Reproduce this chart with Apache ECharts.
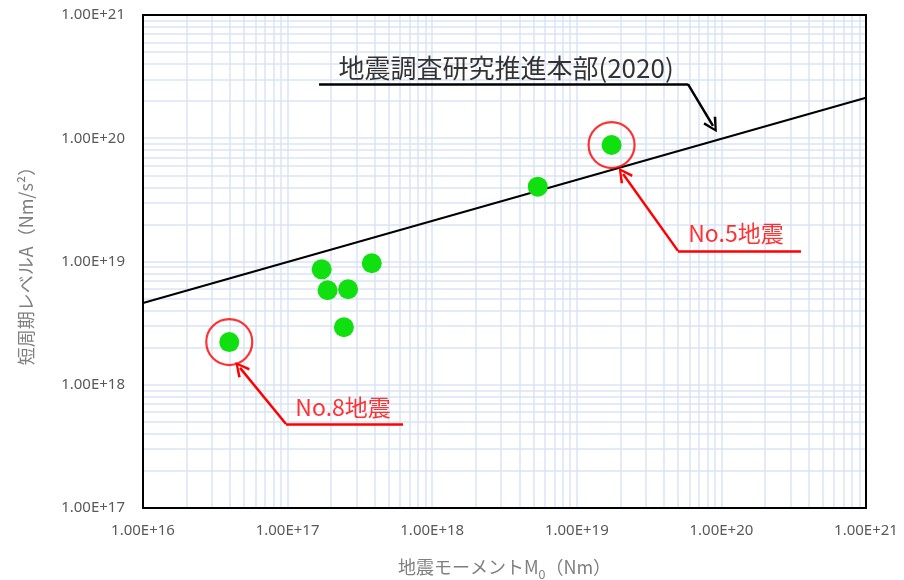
<!DOCTYPE html>
<html><head><meta charset="utf-8">
<script src="https://cdn.jsdelivr.net/npm/echarts@6/dist/echarts.min.js"></script>
<style>html,body{margin:0;padding:0;background:#fff}#c{width:904px;height:580px}</style>
</head><body><div id="c"></div>
<script>
// ---- data ----
const xTickLabels = ['1.00E+16','1.00E+17','1.00E+18','1.00E+19','1.00E+20','1.00E+21'];
const yTickLabels = ['1.00E+17','1.00E+18','1.00E+19','1.00E+20','1.00E+21'];
const quakeM0 = [3.95e16, 1.72e17, 1.89e17, 2.62e17, 2.45e17, 3.82e17, 5.37e18, 1.74e19];
const quakeA  = [2.22e18, 8.64e18, 5.84e18, 5.95e18, 2.93e18, 9.67e18, 4.05e19, 8.81e19];
const highlightIdx = [0, 7];                  // No.8, No.5
const relM0 = [1e16, 1e21];                   // 地震調査研究推進本部(2020)
const relA  = [4.6e18, 2.13e20];
const minorMult = [2,3,4,5,6,7,8,9];
const xDecades = [16,17,18,19,20];
const yDecades = [17,18,19,20];
// annotation anchors (data coords)
const relLabel = {name:'地震調査研究推進本部(2020)', pos:[3.24e18, 3.72e20]};
const relLeader = [[1.65e17,2.75e20],[5.87e19,2.75e20],[8.75e19,1.26e20]];
const no8Label = {name:'No.8地震', pos:[2.42e17, 6.6e17]};
const no8Leader = [[6.28e17,4.8e17],[9.75e16,4.8e17],[4.69e16,1.37e18]];
const no5Label = {name:'No.5地震', pos:[1.26e20, 1.7e19]};
const no5Leader = [[3.55e20,1.22e19],[5.01e19,1.22e19],[2.09e19,5.13e19]];

const gridColor = '#d9e4f4';
const minorX = [], minorY = [];
xDecades.forEach(d => minorMult.forEach(m => minorX.push({xAxis: m*Math.pow(10,d)})));
yDecades.forEach(d => minorMult.forEach(m => minorY.push({yAxis: m*Math.pow(10,d)})));

const chevron = 'path://M5,0 L10,9 L8.5,9.9 L5,3 L1.5,9.9 L0,9 Z';
const frameAxis = {axisLine:{show:true, onZero:false, lineStyle:{color:'#000', width:2}},
  axisTick:{show:false}, axisLabel:{show:false}, splitLine:{show:false}};
const blk = {color:'#000', width:2.5, opacity:1};
const red = {color:'#ff0000', width:2.5, opacity:1};

const chart = echarts.init(document.getElementById('c'));
chart.setOption({
  animation:false,
  grid:{left:143, right:38, top:15, bottom:72, containLabel:false, outerBoundsMode:'none'},
  xAxis:[{type:'log', logBase:10, min:1e16, max:1e21,
    name:'地震モーメントM{sub|0}（Nm）', nameLocation:'middle', nameGap:50,
    nameTextStyle:{color:'#7f7f7f', fontSize:18, fontFamily:'Noto Sans CJK JP',
      rich:{sub:{fontSize:12, verticalAlign:'bottom', padding:[0,0,-6,0], color:'#7f7f7f', fontFamily:'Noto Sans'}}},
    axisLine:{show:true, onZero:false, lineStyle:{color:'#000', width:2}}, axisTick:{show:false},
    splitLine:{show:true, lineStyle:{color:gridColor, width:1.5}},
    axisLabel:{color:'#595959', fontSize:15, fontFamily:'Noto Sans', margin:15,
      formatter:v => xTickLabels[Math.round(Math.log10(v))-16]}
  },
  Object.assign({type:'log', logBase:10, min:1e16, max:1e21, position:'top'}, frameAxis)],
  yAxis:[{type:'log', logBase:10, min:1e17, max:1e21,
    name:'短周期レベルA（Nm/s²）', nameLocation:'middle', nameGap:108, nameRotate:90,
    nameTextStyle:{color:'#7f7f7f', fontSize:18, fontFamily:'Noto Sans CJK JP'},
    axisLine:{show:true, onZero:false, lineStyle:{color:'#000', width:2}}, axisTick:{show:false},
    splitLine:{show:true, lineStyle:{color:gridColor, width:1.5}},
    axisLabel:{color:'#595959', fontSize:15, fontFamily:'Noto Sans', margin:18,
      formatter:v => yTickLabels[Math.round(Math.log10(v))-17]}
  },
  Object.assign({type:'log', logBase:10, min:1e17, max:1e21, position:'right'}, frameAxis)],
  series:[
    {type:'scatter', data:[], silent:true, z:0,
      markLine:{silent:true, z:0, symbol:'none', label:{show:false},
        lineStyle:{color:gridColor, width:1.5, type:'solid'},
        emphasis:{disabled:true}, data:minorX.concat(minorY)}},
    {type:'line', data:relM0.map((x,i)=>[x,relA[i]]), symbol:'none', z:3,
      lineStyle:{color:'#000', width:2}},
    {type:'scatter', data:quakeM0.map((x,i)=>[x,quakeA[i]]), symbol:'circle', symbolSize:20, z:4,
      itemStyle:{color:'#10e010', opacity:1}},
    {type:'scatter', data:highlightIdx.map(i=>[quakeM0[i],quakeA[i]]), symbol:'circle', symbolSize:46, z:5,
      itemStyle:{color:'rgba(0,0,0,0)', borderColor:'#ff0000', borderWidth:2.2}},
    {type:'lines', coordinateSystem:'cartesian2d', z:6, symbol:'none',
      lineStyle:{width:2.5, opacity:1},
      data:[
        {coords:[relLeader[0],relLeader[1]], lineStyle:blk},
        {coords:[no8Leader[0],no8Leader[1]], lineStyle:red},
        {coords:[no5Leader[0],no5Leader[1]], lineStyle:red}
      ]},
    {type:'lines', coordinateSystem:'cartesian2d', z:6, symbol:['none', chevron], symbolSize:[17,15],
      lineStyle:{width:2.5, opacity:1},
      data:[
        {coords:[relLeader[1],relLeader[2]], lineStyle:blk},
        {coords:[no8Leader[1],no8Leader[2]], lineStyle:red},
        {coords:[no5Leader[1],no5Leader[2]], lineStyle:red}
      ]},
    {type:'scatter', symbol:'circle', symbolSize:1, z:7, silent:true,
      itemStyle:{color:'rgba(0,0,0,0)'},
      label:{show:true, position:'inside', formatter:p=>p.name, fontFamily:'Noto Sans CJK JP'},
      data:[
        {name:relLabel.name, value:relLabel.pos, label:{color:'#000', fontSize:26}},
        {name:no8Label.name, value:no8Label.pos, label:{color:'#ff0000', fontSize:23}},
        {name:no5Label.name, value:no5Label.pos, label:{color:'#ff0000', fontSize:23}}
      ]}
  ]
});
</script></body></html>
